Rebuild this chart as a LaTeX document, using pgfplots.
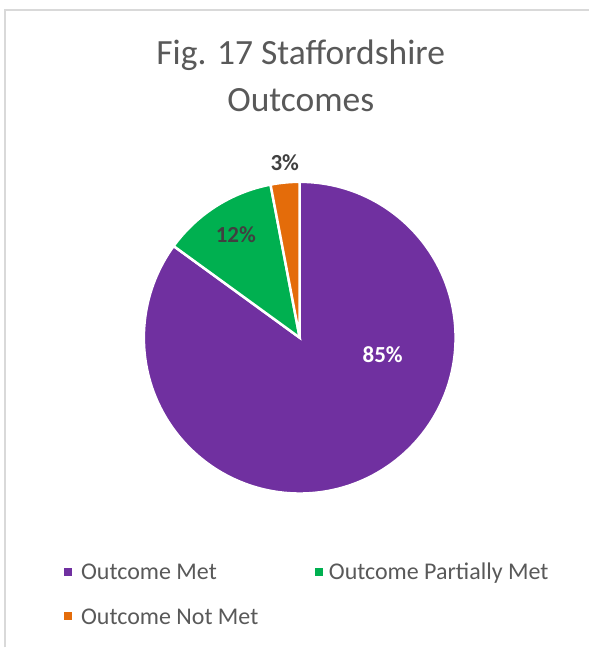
\documentclass[border=0pt]{standalone}
\usepackage{fontspec}
\setmainfont{Carlito}
\usepackage{pgfplots}
\pgfplotsset{compat=1.18}

\definecolor{mpurple}{HTML}{7030A0}
\definecolor{mgreen}{HTML}{00B050}
\definecolor{morange}{HTML}{E46C0A}
\definecolor{titlegray}{HTML}{595959}
\definecolor{labelgray}{HTML}{404040}
\definecolor{framegray}{HTML}{D9D9D9}

% shares in percent
\def\vMet{85}
\def\vPart{12}
\def\vNot{3}

\begin{document}
\begin{tikzpicture}
\pgfmathsetmacro\aStart{90}
\pgfmathsetmacro\aOne{\aStart-3.6*\vMet}
\pgfmathsetmacro\aTwo{\aOne-3.6*\vPart}
\pgfmathsetmacro\aThree{\aTwo-3.6*\vNot}
\begin{axis}[
    scale only axis,
    width=590pt, height=648pt,
    xmin=0, xmax=590, ymin=0, ymax=648,
    hide axis,
    clip=false,
]
\path (axis cs:0,0) rectangle (axis cs:590,648);
% frame
\draw[framegray, line width=1.2pt] (axis cs:5,0) -- (axis cs:5,638) -- (axis cs:590,638);

% title
\node[anchor=base, text=titlegray, font=\fontsize{35.5}{40}\selectfont] at (axis cs:301,583) {Fig. 17 Staffordshire};
\node[anchor=base, text=titlegray, font=\fontsize{35.5}{40}\selectfont] at (axis cs:301,536) {Outcomes};

% slices
\fill[mpurple, draw=white, line width=2.5pt] (axis cs:300,310) -- ++(\aStart:156pt)
    arc[start angle=\aStart, end angle=\aOne, radius=156pt] -- cycle;
\fill[mgreen, draw=white, line width=2.5pt] (axis cs:300,310) -- ++(\aOne:156pt)
    arc[start angle=\aOne, end angle=\aTwo, radius=156pt] -- cycle;
\fill[morange, draw=white, line width=2.5pt] (axis cs:300,310) -- ++(\aTwo:156pt)
    arc[start angle=\aTwo, end angle=\aThree, radius=156pt] -- cycle;

% data labels
\node[text=white, font=\fontsize{23}{27}\selectfont\bfseries] at (axis cs:383,293) {\vMet\%};
\node[text=labelgray, font=\fontsize{23}{27}\selectfont\bfseries] at (axis cs:236,413) {\vPart\%};
\node[text=labelgray, font=\fontsize{23}{27}\selectfont\bfseries] at (axis cs:285,485) {\vNot\%};

% legend
\fill[mpurple] (axis cs:64,71) rectangle (axis cs:72,79);
\node[anchor=base west, inner sep=0pt, text=titlegray, font=\fontsize{24}{28}\selectfont] at (axis cs:81,68) {Outcome Met};
\fill[mgreen] (axis cs:315,71) rectangle (axis cs:323,79);
\node[anchor=base west, inner sep=0pt, text=titlegray, font=\fontsize{24}{28}\selectfont] at (axis cs:329,68) {Outcome Partially Met};
\fill[morange] (axis cs:64,27) rectangle (axis cs:72,35);
\node[anchor=base west, inner sep=0pt, text=titlegray, font=\fontsize{24}{28}\selectfont] at (axis cs:81,23) {Outcome Not Met};
\end{axis}
\end{tikzpicture}
\end{document}
